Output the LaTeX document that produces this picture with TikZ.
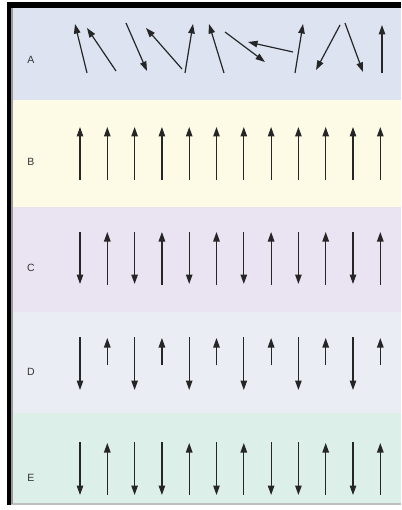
\documentclass[tikz,border=0pt]{standalone}
\usepackage{fontspec}
\setmainfont{Liberation Sans}
\usetikzlibrary{arrows.meta}
\definecolor{pA}{HTML}{DDE3F1}
\definecolor{pB}{HTML}{FDFAE6}
\definecolor{pC}{HTML}{EAE3F2}
\definecolor{pD}{HTML}{EBEDF4}
\definecolor{pE}{HTML}{DCEFE8}
\definecolor{ink}{HTML}{262626}
\definecolor{lab}{HTML}{333333}
\tikzset{
  spin/.style={draw=ink, line width=1.2pt, -{Triangle[length=9.5pt,width=6.5pt]}},
  lbl/.style={font=\fontsize{10.5}{12}\selectfont, text=lab, inner sep=0pt},
}
\begin{document}
\begin{tikzpicture}[x=1pt,y=-1pt]
\useasboundingbox (0,0) rectangle (401,510);
\fill[white] (0,0) rectangle (401,510);
% panels
\fill[pA] (11,8) rectangle (401,100);
\fill[pB] (11,100) rectangle (401,207);
\fill[pC] (11,207) rectangle (401,312);
\fill[pD] (11,312) rectangle (401,413);
\fill[pE] (11,413) rectangle (401,503);
\fill[black!25] (11,503) rectangle (401,504.5);
% borders
\fill[black] (7,2) rectangle (401,8);
\fill[black] (7,2) rectangle (11,504.5);
\fill[black!40] (11,8) rectangle (13,504);
% labels
\node[lbl] (la) at (31,60) {A};
\node[lbl] (lb) at (31,162) {B};
\node[lbl] (lc) at (31,268) {C};
\node[lbl] (ld) at (31,372) {D};
\node[lbl] (le) at (31,478) {E};
% A: disordered
\draw[spin] (87,73) -- (75,24);
\draw[spin] (116,71) -- (87,28);
\draw[spin] (126,23) -- (147,71);
\draw[spin] (182,69) -- (146,28);
\draw[spin] (185,73) -- (193,24);
\draw[spin] (224,73) -- (209,24);
\draw[spin] (225,32) -- (265,62);
\draw[spin] (293,52) -- (248,42);
\draw[spin] (295,73) -- (303,24);
\draw[spin] (340,25) -- (316,70);
\draw[spin] (345,23) -- (363,72);
\draw[spin] (382,73) -- (382,25);
% B: ferromagnetic
\foreach \i in {0,...,11}{
  \draw[spin] ({80+27.3*\i},180) -- ({80+27.3*\i},127);
}
% C: antiferromagnetic
\foreach \i in {0,2,4,6,8,10}{
  \draw[spin] ({80+27.3*\i},232) -- ({80+27.3*\i},284);
}
\foreach \i in {1,3,5,7,9,11}{
  \draw[spin] ({80+27.3*\i},285) -- ({80+27.3*\i},232);
}
% D: ferrimagnetic
\foreach \i in {0,2,4,6,8,10}{
  \draw[spin] ({80+27.3*\i},337) -- ({80+27.3*\i},390);
}
\foreach \i in {1,3,5,7,9,11}{
  \draw[spin] ({80+27.3*\i},365) -- ({80+27.3*\i},338);
}
% E: random
\foreach \i in {0,2,3,5,7,8,10}{
  \draw[spin] ({80+27.3*\i},442) -- ({80+27.3*\i},495);
}
\foreach \i in {1,4,6,9,11}{
  \draw[spin] ({80+27.3*\i},495) -- ({80+27.3*\i},443);
}
\end{tikzpicture}
\end{document}
